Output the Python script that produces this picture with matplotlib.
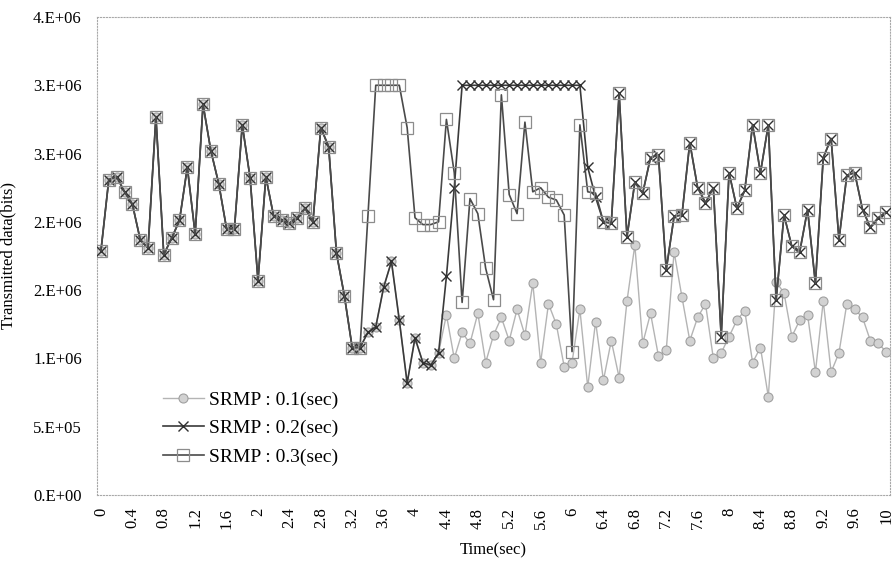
import numpy as np
import matplotlib
matplotlib.use("Agg")
import matplotlib.pyplot as plt

plt.rcParams['font.family'] = ['Liberation Serif', 'DejaVu Serif']

# time axis: one category every 0.1 sec, 0 .. 10
time_sec = [round(0.1 * k, 1) for k in range(101)]

# transmitted data, in units of 1e6 bits
srmp_01 = [
    1.79, 2.31, 2.33, 2.22, 2.13, 1.87, 1.81, 2.77, 1.76, 1.88,
    2.01, 2.40, 1.91, 2.86, 2.52, 2.28, 1.95, 1.95, 2.71, 2.32,
    1.57, 2.33, 2.04, 2.01, 1.99, 2.03, 2.10, 2.00, 2.69, 2.55,
    1.77, 1.46, 1.08, 1.08, 1.19, 1.23, 1.52, 1.71, 1.28, 0.82,
    1.15, 0.97, 0.95, 1.04, 1.32, 1.00, 1.19, 1.11, 1.33, 0.97,
    1.17, 1.30, 1.13, 1.36, 1.17, 1.55, 0.97, 1.40, 1.25, 0.94,
    0.97, 1.36, 0.79, 1.27, 0.84, 1.13, 0.86, 1.42, 1.83, 1.11,
    1.33, 1.02, 1.06, 1.78, 1.45, 1.13, 1.30, 1.40, 1.00, 1.04,
    1.16, 1.28, 1.35, 0.97, 1.08, 0.72, 1.56, 1.48, 1.16, 1.28,
    1.32, 0.90, 1.42, 0.90, 1.04, 1.40, 1.36, 1.30, 1.13, 1.11,
    1.05,
]

srmp_02 = [
    1.79, 2.31, 2.33, 2.22, 2.13, 1.87, 1.81, 2.77, 1.76, 1.88,
    2.01, 2.40, 1.91, 2.86, 2.52, 2.28, 1.95, 1.95, 2.71, 2.32,
    1.57, 2.33, 2.04, 2.01, 1.99, 2.03, 2.10, 2.00, 2.69, 2.55,
    1.77, 1.46, 1.08, 1.08, 1.19, 1.23, 1.52, 1.71, 1.28, 0.82,
    1.15, 0.97, 0.95, 1.04, 1.60, 2.25, 3.00, 3.00, 3.00, 3.00,
    3.00, 3.00, 3.00, 3.00, 3.00, 3.00, 3.00, 3.00, 3.00, 3.00,
    3.00, 3.00, 2.40, 2.18, 2.00, 1.99, 2.94, 1.89, 2.29, 2.21,
    2.47, 2.49, 1.65, 2.04, 2.05, 2.58, 2.25, 2.14, 2.25, 1.16,
    2.36, 2.10, 2.23, 2.71, 2.36, 2.71, 1.43, 2.05, 1.82, 1.78,
    2.09, 1.55, 2.47, 2.61, 1.87, 2.34, 2.36, 2.09, 1.96, 2.03,
    2.07,
]

srmp_03 = [
    1.79, 2.31, 2.33, 2.22, 2.13, 1.87, 1.81, 2.77, 1.76, 1.88,
    2.01, 2.40, 1.91, 2.86, 2.52, 2.28, 1.95, 1.95, 2.71, 2.32,
    1.57, 2.33, 2.04, 2.01, 1.99, 2.03, 2.10, 2.00, 2.69, 2.55,
    1.77, 1.46, 1.08, 1.08, 2.04, 3.00, 3.00, 3.00, 3.00, 2.69,
    2.03, 1.98, 1.98, 2.00, 2.75, 2.36, 1.41, 2.17, 2.06, 1.66,
    1.43, 2.93, 2.20, 2.06, 2.73, 2.22, 2.25, 2.18, 2.16, 2.05,
    1.05, 2.71, 2.22, 2.21, 2.00, 1.99, 2.94, 1.89, 2.29, 2.21,
    2.47, 2.49, 1.65, 2.04, 2.05, 2.58, 2.25, 2.14, 2.25, 1.16,
    2.36, 2.10, 2.23, 2.71, 2.36, 2.71, 1.43, 2.05, 1.82, 1.78,
    2.09, 1.55, 2.47, 2.61, 1.87, 2.34, 2.36, 2.09, 1.96, 2.03,
    2.07,
]

series_labels = ["SRMP : 0.1(sec)", "SRMP : 0.2(sec)", "SRMP : 0.3(sec)"]

y_ticks = [0, 0.5e6, 1.0e6, 1.5e6, 2.0e6, 2.5e6, 3.0e6, 3.5e6]
y_tick_labels = ["0.E+00", "5.E+05", "1.E+06", "2.E+06", "2.E+06", "3.E+06", "3.E+06", "4.E+06"]
x_tick_every = 4

fig = plt.figure(figsize=(8.96, 5.64), dpi=100)
ax = fig.add_axes([0.1083, 0.1223, 0.885, 0.8476])

idx = np.arange(len(time_sec))

ax.plot(idx, np.array(srmp_01) * 1e6, color='#b4b4b4', lw=1.0,
        marker='o', ms=6.5, mfc='#d2d2d2', mec='#a0a0a0', mew=0.8,
        label=series_labels[0], zorder=2)
ax.plot(idx, np.array(srmp_02) * 1e6, color='#3a3a3a', lw=1.2,
        marker='x', ms=7.5, mec='#303030', mew=1.0,
        label=series_labels[1], zorder=3)
ax.plot(idx, np.array(srmp_03) * 1e6, color='#4a4a4a', lw=1.2,
        marker='s', ms=8, mfc='none', mec='#8c8c8c', mew=0.9,
        label=series_labels[2], zorder=4)

ax.set_xlim(-0.5, len(time_sec) - 0.5)
ax.set_ylim(0, 3.5e6)

ax.set_yticks(y_ticks)
ax.set_yticklabels(y_tick_labels)
xt = idx[::x_tick_every]
ax.set_xticks(xt)
ax.set_xticklabels(["{:g}".format(time_sec[k]) for k in xt], rotation=90)

ax.tick_params(axis='y', length=0, pad=11, labelsize=12)
ax.tick_params(axis='x', length=0, pad=9, labelsize=12)

for sp in ax.spines.values():
    sp.set_linestyle(':')
    sp.set_color('#a8a8a8')
    sp.set_linewidth(0.8)

ax.set_xlabel("Time(sec)", fontsize=12, labelpad=10)
ax.set_ylabel("Transmitted data(bits)", fontsize=12, labelpad=12)

ax.legend(loc='upper left', bbox_to_anchor=(0.083, 0.2175), frameon=False,
          fontsize=14, handlelength=2.1, handletextpad=0.25,
          labelspacing=0.56, borderpad=0, borderaxespad=0)

fig.savefig("out.png", dpi=100)
